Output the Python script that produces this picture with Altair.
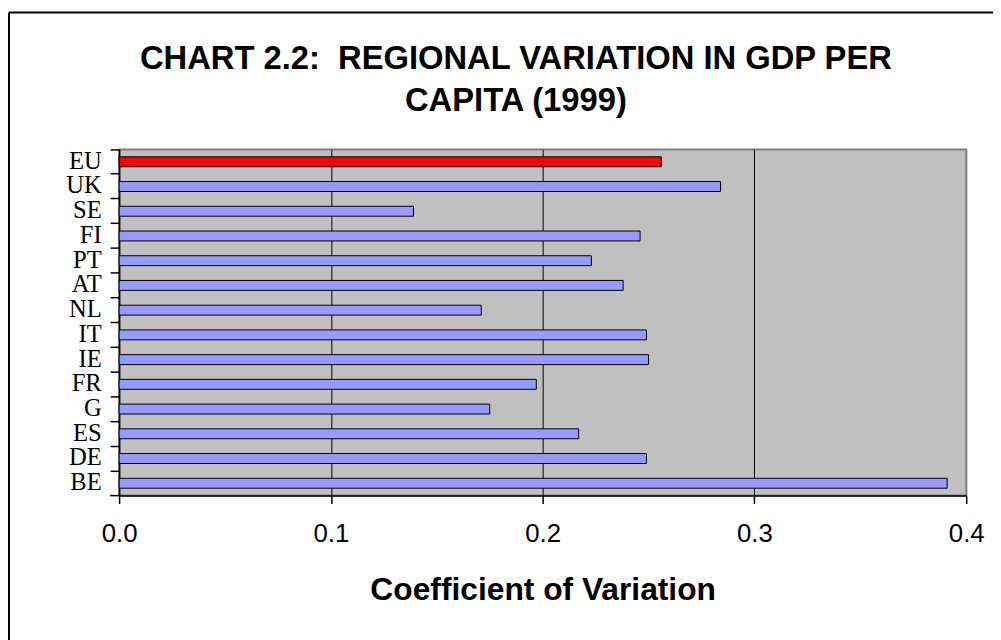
import altair as alt
import pandas as pd

# ---- data ----
countries = ["EU", "UK", "SE", "FI", "PT", "AT", "NL", "IT", "IE", "FR", "G", "ES", "DE", "BE"]
cv_values = [0.256, 0.284, 0.139, 0.246, 0.223, 0.238, 0.171, 0.249, 0.250, 0.197, 0.175, 0.217, 0.249, 0.391]
groups = ["EU"] + ["Member"] * 13
x_tick_values = [0.0, 0.1, 0.2, 0.3, 0.4]
title_lines = ["CHART 2.2:\u00a0 REGIONAL VARIATION IN GDP PER", "CAPITA (1999)"]
x_title = "Coefficient of Variation"

df = pd.DataFrame({"country": countries, "cv": cv_values, "group": groups})
frame_df = pd.DataFrame({"k": [0]})

bars = alt.Chart(df).mark_bar(size=10, stroke="black", strokeWidth=1).encode(
    x=alt.X(
        "cv:Q",
        scale=alt.Scale(domain=[0, 0.4], nice=False, zero=True),
        axis=alt.Axis(
            values=x_tick_values,
            format=".1f",
            title=x_title,
            titleFont="Liberation Sans",
            titleFontSize=32,
            titleFontWeight="bold",
            titleColor="black",
            titleY=104.5,
            titleBaseline="alphabetic",
            labelFont="Liberation Sans",
            labelFontSize=26,
            labelColor="black",
            labelPadding=17.5,
            labelFlush=False,
            labelOverlap=False,
            tickSize=8,
            tickWidth=1.5,
            tickColor="black",
            domainColor="black",
            domainWidth=1.5,
            grid=True,
            gridColor={"condition": {"test": "datum.value >= 0.4", "value": "#808080"}, "value": "black"},
            gridWidth=1,
            gridOpacity=1,
        ),
    ),
    y=alt.Y(
        "country:N",
        sort=countries,
        scale=alt.Scale(paddingInner=0, paddingOuter=0),
        axis=alt.Axis(
            title=None,
            bandPosition=0,
            labelFont="Liberation Serif",
            labelFontSize=24.8,
            labelColor="black",
            labelPadding=9,
            tickSize=9,
            tickWidth=1.5,
            tickColor="black",
            domainColor="black",
            domainWidth=1.5,
            grid=False,
        ),
    ),
    color=alt.Color(
        "group:N",
        scale=alt.Scale(domain=["EU", "Member"], range=["#FF0000", "#9999FF"]),
        legend=None,
    ),
)

# decorations: outer chart frame (left and top edges visible) and the closing y tick
left_border = alt.Chart(frame_df).mark_rule(color="black", strokeWidth=2).encode(
    x=alt.value(-111), y=alt.value(-138), y2=alt.value(520)
)
top_border = alt.Chart(frame_df).mark_rule(color="black", strokeWidth=2).encode(
    x=alt.value(-111), x2=alt.value(900), y=alt.value(-138)
)
bottom_tick = alt.Chart(frame_df).mark_rule(color="black", strokeWidth=1.5).encode(
    x=alt.value(-9), x2=alt.value(0), y=alt.value(349)
)

chart = alt.layer(bars, left_border, top_border, bottom_tick).properties(
    width=854,
    height=349,
    autosize=alt.AutoSizeParams(type="none"),
    padding={"left": 112, "top": 140, "right": 27, "bottom": 143},
    title=alt.TitleParams(
        title_lines,
        font="Liberation Sans",
        fontSize=33,
        fontWeight="bold",
        color="black",
        anchor="middle",
        frame="group",
        dx=-27,
        offset=-140.5,
        baseline="bottom",
        lineHeight=42.6,
    ),
).configure(background="white").configure_view(
    fill="#C0C0C0", stroke="#808080", strokeWidth=2
)

chart.save("out.html", embed_options={"renderer": "svg", "actions": False})
